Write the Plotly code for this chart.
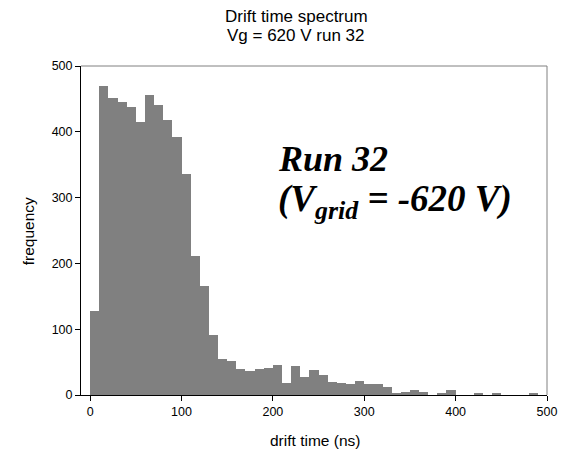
import plotly.graph_objects as go

# Bin left edges (ns), bin width 10 ns
bin_left = [0, 10, 20, 30, 40, 50, 60, 70, 80, 90,
            100, 110, 120, 130, 140, 150, 160, 170, 180, 190,
            200, 210, 220, 230, 240, 250, 260, 270, 280, 290,
            300, 310, 320, 330, 340, 350, 360, 370, 380, 390,
            400, 410, 420, 430, 440, 450, 460, 470, 480, 490]
counts = [128, 470, 451, 445, 438, 415, 456, 440, 418, 392,
          336, 211, 165, 91, 54, 51, 40, 37, 40, 41,
          46, 19, 44, 27, 38, 30, 20, 18, 16, 22,
          16, 16, 12, 2, 4, 7, 5, 0, 3, 7,
          0, 0, 2, 0, 2, 0, 0, 0, 2, 0]
x_ticks = [0, 100, 200, 300, 400, 500]
y_ticks = [0, 100, 200, 300, 400, 500]

W, H = 569, 452
L, R, T, B = 81, 20, 66, 57
pw, ph = W - L - R, H - T - B

fig = go.Figure()
fig.add_trace(go.Bar(x=bin_left, y=counts, offset=0, width=10,
                     marker=dict(color="#808080", line=dict(width=0))))

font = "Liberation Sans, Arial, sans-serif"
fig.update_layout(
    width=W, height=H,
    margin=dict(l=L, r=R, t=T, b=B),
    paper_bgcolor="white", plot_bgcolor="white",
    showlegend=False, bargap=0,
    font=dict(family=font, size=12, color="black"),
    xaxis=dict(range=[-10, 500], tickmode="array", tickvals=x_ticks,
               ticks="outside", ticklen=5, tickcolor="black",
               showline=True, linecolor="black", linewidth=1,
               showgrid=False, zeroline=False,
               tickfont=dict(size=12.5)),
    yaxis=dict(range=[0, 500], tickmode="array", tickvals=y_ticks,
               ticks="outside", ticklen=5, tickcolor="black",
               showline=True, linecolor="black", linewidth=1,
               showgrid=False, zeroline=False,
               tickfont=dict(size=12.5)),
)

def px_x(p):
    return (p - L) / pw

def px_y(p):
    return (H - B - p) / ph

# title lines
fig.add_annotation(text="Drift time spectrum", xref="paper", yref="paper",
                   x=px_x(297), y=px_y(17), xanchor="center", yanchor="middle",
                   showarrow=False, font=dict(family=font, size=17, color="black"))
fig.add_annotation(text="Vg = 620 V run 32", xref="paper", yref="paper",
                   x=px_x(297), y=px_y(35), xanchor="center", yanchor="middle",
                   showarrow=False, font=dict(family=font, size=17, color="black"))
# axis titles
fig.add_annotation(text="drift time (ns)", xref="paper", yref="paper",
                   x=px_x(316), y=px_y(440), xanchor="center", yanchor="middle",
                   showarrow=False, font=dict(family=font, size=15.5, color="black"))
fig.add_annotation(text="frequency", xref="paper", yref="paper", textangle=-90,
                   x=px_x(28), y=px_y(231), xanchor="center", yanchor="middle",
                   showarrow=False, font=dict(family=font, size=15.5, color="black"))

# gray top and right frame
fig.add_shape(type="line", xref="paper", yref="paper", x0=0, x1=1, y0=1, y1=1,
              line=dict(color="#808080", width=1))
fig.add_shape(type="line", xref="paper", yref="paper", x0=1, x1=1, y0=0, y1=1,
              line=dict(color="#808080", width=1))

serif = "Liberation Serif, Times New Roman, serif"
fig.add_annotation(text="<b><i>Run 32</i></b>", xref="paper", yref="paper",
                   x=px_x(277), y=px_y(159), xanchor="left", yanchor="middle",
                   showarrow=False, font=dict(family=serif, size=36, color="black"))
fig.add_annotation(text="<b><i>(V<sub>grid</sub> = -620 V)</i></b>", xref="paper", yref="paper",
                   x=px_x(277), y=px_y(201), xanchor="left", yanchor="middle",
                   showarrow=False, font=dict(family=serif, size=37, color="black"))

fig.write_html("out.html", config={"displayModeBar": False},
               post_script="document.body.style.margin='0';document.body.style.overflow='hidden';")
